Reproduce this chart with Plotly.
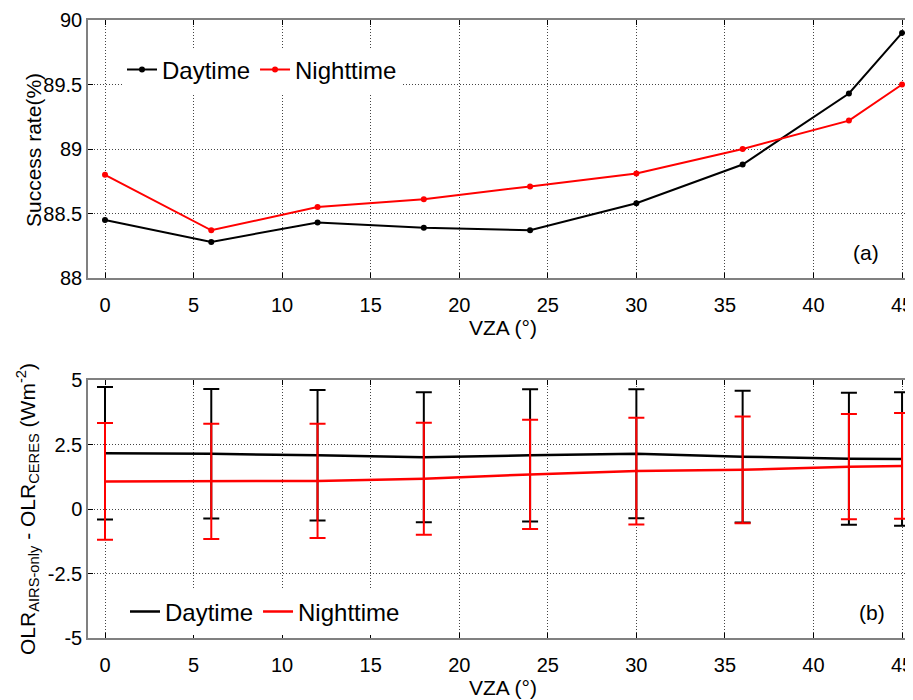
import plotly.graph_objects as go

vza = [0, 6, 12, 18, 24, 30, 36, 42, 45]

# Panel (a): success rate (%)
success_day = [88.45, 88.28, 88.43, 88.39, 88.37, 88.58, 88.88, 89.43, 89.90]
success_night = [88.80, 88.37, 88.55, 88.61, 88.71, 88.81, 89.00, 89.22, 89.50]

# Panel (b): OLR difference mean and std (W m-2)
diff_day_mean = [2.16, 2.14, 2.08, 2.01, 2.08, 2.14, 2.03, 1.95, 1.94]
diff_day_std = [2.57, 2.51, 2.53, 2.52, 2.56, 2.50, 2.55, 2.56, 2.59]
diff_night_mean = [1.07, 1.07, 1.09, 1.17, 1.34, 1.47, 1.52, 1.64, 1.67]
diff_night_std = [2.26, 2.23, 2.21, 2.17, 2.12, 2.07, 2.07, 2.04, 2.05]

xticks = [0, 5, 10, 15, 20, 25, 30, 35, 40, 45]

FONT = "Liberation Sans, Arial, sans-serif"
W, H = 913, 700
OFF = 8  # page body margin offset
L = 88 - OFF
PW = W - L


def px(xp):
    return (xp - OFF - L) / PW


def py(yp):
    return 1 - (yp - OFF) / H


fig = go.Figure()

fig.add_trace(go.Scatter(x=vza, y=success_day, mode="lines+markers", name="Daytime",
                         line=dict(color="black", width=2), marker=dict(size=6, color="black"),
                         xaxis="x", yaxis="y", legend="legend"))
fig.add_trace(go.Scatter(x=vza, y=success_night, mode="lines+markers", name="Nighttime",
                         line=dict(color="red", width=2), marker=dict(size=6, color="red"),
                         xaxis="x", yaxis="y", legend="legend"))

fig.add_trace(go.Scatter(x=vza, y=diff_day_mean, mode="lines", name="Daytime",
                         line=dict(color="black", width=2.5),
                         error_y=dict(type="data", array=diff_day_std, color="black", thickness=2, width=8),
                         xaxis="x2", yaxis="y2", legend="legend2"))
fig.add_trace(go.Scatter(x=vza, y=diff_night_mean, mode="lines", name="Nighttime",
                         line=dict(color="red", width=2.5),
                         error_y=dict(type="data", array=diff_night_std, color="red", thickness=2, width=8),
                         xaxis="x2", yaxis="y2", legend="legend2"))

top_dom = [py(278), py(20)]
bot_dom = [py(638), py(380)]
xrange = [-0.96, 46.07]

axis_common = dict(showline=True, linecolor="#808080", linewidth=1.5, ticks="inside", ticklen=5,
                   tickcolor="black", tickwidth=1, showgrid=True, gridcolor="#444",
                   griddash="1px,2px", gridwidth=1, automargin=False,
                   zeroline=False, tickfont=dict(size=20, color="black", family=FONT))

fig.update_layout(
    width=W, height=H,
    margin=dict(l=L, r=0, t=0, b=0, autoexpand=False),
    paper_bgcolor="white", plot_bgcolor="white",
    font=dict(family=FONT, color="black"),
    xaxis=dict(domain=[0, 1], range=xrange, tickvals=xticks, anchor="y", mirror="ticks",
               ticklabelstandoff=8, **axis_common),
    yaxis=dict(domain=top_dom, range=[88, 90], tickvals=[88, 88.5, 89, 89.5, 90],
               ticktext=["88", "88.5", "89", "89.5", "90"], anchor="x", **axis_common),
    xaxis2=dict(domain=[0, 1], range=xrange, tickvals=xticks, anchor="y2", mirror="ticks",
                ticklabelstandoff=8, **axis_common),
    yaxis2=dict(domain=bot_dom, range=[-5, 5], tickvals=[-5, -2.5, 0, 2.5, 5],
                ticktext=["-5", "-2.5", "0", "2.5", "5"], anchor="x2", **axis_common),
    legend=dict(x=px(122), y=py(70), xanchor="left", yanchor="middle",
                orientation="h", bgcolor="white", borderwidth=0,
                font=dict(size=24, family=FONT, color="black"), itemwidth=30, tracegroupgap=0),
    legend2=dict(x=px(125), y=py(612), xanchor="left", yanchor="middle",
                 orientation="h", bgcolor="white", borderwidth=0,
                 font=dict(size=24, family=FONT, color="black"), itemwidth=30, tracegroupgap=0),
    showlegend=True,
)

# axis titles and panel labels
TF = dict(size=21, family=FONT, color="black")
fig.add_annotation(text="Success rate(%)", xref="paper", yref="paper", x=px(33),
                   y=py(150), textangle=-90, showarrow=False,
                   font=TF, xanchor="center", yanchor="middle")
fig.add_annotation(text="OLR<sub>AIRS-only</sub> - OLR<sub>CERES</sub> (Wm<sup>-2</sup>)",
                   xref="paper", yref="paper", x=px(27),
                   y=py(509), textangle=-90, showarrow=False,
                   font=TF, xanchor="center", yanchor="middle")
fig.add_annotation(text="VZA (°)", xref="paper", yref="paper", x=px(503), y=py(327),
                   showarrow=False, font=TF, xanchor="center", yanchor="middle")
fig.add_annotation(text="VZA (°)", xref="paper", yref="paper", x=px(503), y=py(687),
                   showarrow=False, font=TF, xanchor="center", yanchor="middle")
fig.add_annotation(text="(a)", xref="paper", yref="paper", x=px(866), y=py(253),
                   showarrow=False, font=TF, xanchor="center", yanchor="middle")
fig.add_annotation(text="(b)", xref="paper", yref="paper", x=px(872), y=py(612),
                   showarrow=False, font=TF, xanchor="center", yanchor="middle")

fig.write_html("out.html")
